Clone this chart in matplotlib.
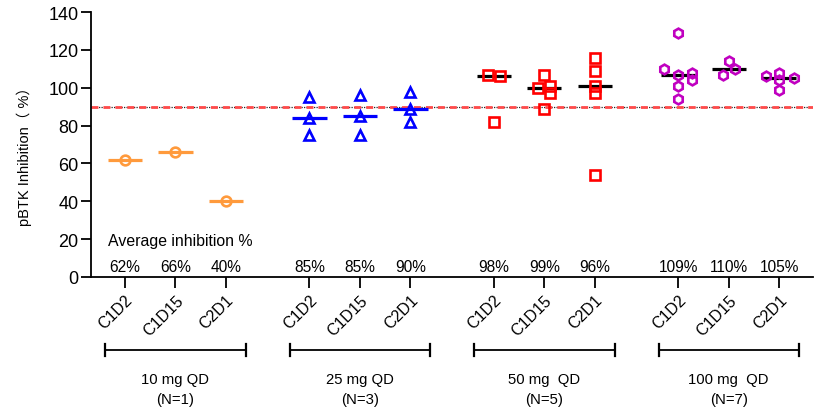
import numpy as np
import matplotlib
matplotlib.use("Agg")
import matplotlib.pyplot as plt
from matplotlib.transforms import blended_transform_factory

plt.rcParams['font.family'] = ['Liberation Sans', 'Noto Sans CJK SC', 'DejaVu Sans']

# data
timepoints = ['C1D2', 'C1D15', 'C2D1']
doses = ['10 mg QD', '25 mg QD', '50 mg  QD', '100 mg  QD']
n_labels = ['(N=1)', '(N=3)', '(N=5)', '(N=7)']

dose10 = [[62], [66], [40]]
dose25 = [[95, 84, 75], [96, 85, 75], [98, 89, 82]]
dose50 = [[107, 106, 82], [107, 100, 101, 97, 89], [116, 109, 101, 97, 54]]
dose100 = [[129, 110, 107, 108, 104, 101, 94], [114, 107, 110], [106, 108, 104, 105, 99]]

avg_pct = ['62%', '66%', '40%', '85%', '85%', '90%',
           '98%', '99%', '96%', '109%', '110%', '105%']

# horizontal jitter (layout only)
jitter50 = [[-0.12, 0.12, 0], [0, -0.12, 0.12, 0.12, 0], [0, 0, 0, 0, 0]]
jitter100 = [[0, -0.28, 0, 0.28, 0.28, 0, 0], [0, -0.12, 0.13], [-0.27, 0, 0, 0.29, 0]]

groups = [dose10, dose25, dose50, dose100]
jitters = [None, None, jitter50, jitter100]
colors = ['#ff9a3c', '#0000ff', '#ff0000', '#c000c0']
markers = ['o', '^', 's', 'h']
line_colors = ['#ff9a3c', '#0000ff', 'black', 'black']

gap = 3.65
fig = plt.figure(figsize=(8.15, 4.10), dpi=100)
ax = fig.add_axes([0.1117, 0.322, 0.886, 0.646])

ticks = []
for g, vals in enumerate(groups):
    for t, pts in enumerate(vals):
        xc = g * gap + t
        ticks.append(xc)
        jit = jitters[g][t] if jitters[g] is not None else [0] * len(pts)
        med = np.median(pts)
        ax.plot([xc - 0.34, xc + 0.34], [med, med], color=line_colors[g], lw=2.3,
                solid_capstyle='butt', zorder=2)
        ax.plot(xc + np.array(jit), pts, linestyle='none', marker=markers[g],
                mfc='none', mec=colors[g], mew=1.9, ms=7, zorder=3)

# reference line at 90%: red dashes with black ticks in the gaps
ax.axhline(90, color='black', lw=0.9, ls=(0, (1, 1)), zorder=1, alpha=0.85)
ax.axhline(90, color='#ff4a4a', lw=2.0, ls=(0, (2.5, 1.8)), zorder=1.5)

ax.set_xlim(-0.67, 13.62)
ax.set_ylim(0, 140)
ax.set_yticks(np.arange(0, 141, 20))
ax.set_xticks(ticks)
ax.set_xticklabels(timepoints * 4, rotation=45, ha='right', va='top',
                   rotation_mode='anchor', fontsize=11.5)
ax.tick_params(axis='y', length=7, width=1.3, labelsize=13, pad=2)
ax.tick_params(axis='x', length=8, width=1.3, pad=3)
for s in ['top', 'right']:
    ax.spines[s].set_visible(False)
for s in ['left', 'bottom']:
    ax.spines[s].set_linewidth(1.3)

ax.set_ylabel('pBTK Inhibition（ %）', fontsize=10.5)
ax.yaxis.set_label_coords(-0.082, 0.47)

ax.text(-0.33, 19.2, 'Average inhibition %', fontsize=11.4, va='center', ha='left')
for xc, lab in zip(ticks, avg_pct):
    ax.text(xc, 5.3, lab, fontsize=11.2, ha='center', va='center')

trans = blended_transform_factory(ax.transData, ax.transAxes)
for g in range(4):
    c = g * gap + 1
    x0, x1 = c - 1.39, c + 1.39
    ax.plot([x0, x1], [-0.275, -0.275], color='black', lw=1.3, transform=trans, clip_on=False)
    for xe in (x0, x1):
        ax.plot([xe, xe], [-0.252, -0.298], color='black', lw=1.6, transform=trans, clip_on=False)
    ax.text(c, -0.385, doses[g], fontsize=10.7, ha='center', va='center', transform=trans)
    ax.text(c, -0.46, n_labels[g], fontsize=10.7, ha='center', va='center', transform=trans)

fig.savefig('out.png', dpi=100)
